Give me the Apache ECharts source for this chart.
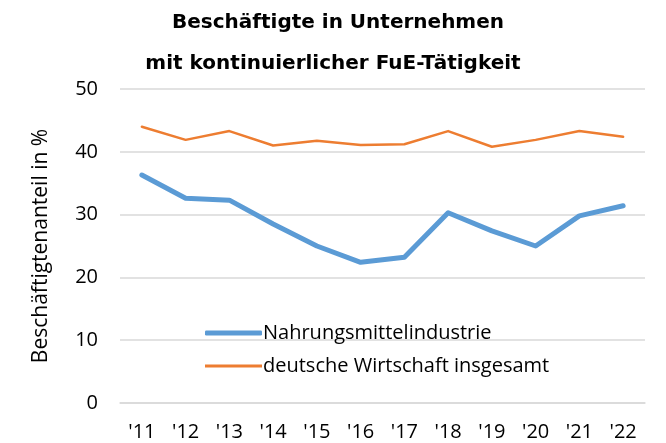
<!DOCTYPE html>
<html><head><meta charset="utf-8">
<script src="https://cdn.jsdelivr.net/npm/echarts@6/dist/echarts.min.js"></script>
<style>html,body{margin:0;padding:0;background:#fff}#c{width:666px;height:443px}</style>
</head><body><div id="c"></div>
<script>
const categories = ["'11","'12","'13","'14","'15","'16","'17","'18","'19","'20","'21","'22"];
const food = [36.3, 32.6, 32.3, 28.5, 25.0, 22.4, 23.2, 30.3, 27.4, 25.0, 29.8, 31.4];
const total = [44.0, 41.9, 43.3, 41.0, 41.75, 41.1, 41.2, 43.3, 40.8, 41.9, 43.3, 42.4];
const yTicks = [0, 10, 20, 30, 40, 50];
const chart = echarts.init(document.getElementById('c'));
const labelFont = "Open Sans, Liberation Sans, sans-serif";
const legendText = {fontFamily: labelFont, fontSize: 20, color: '#000', padding: [0,0,0,-4]};
chart.setOption({
  animation: false,
  title: [
    {text: 'Beschäftigte in Unternehmen', left: 333, textAlign: 'center', top: 8,
     textStyle: {fontFamily: 'DejaVu Sans', fontWeight: 'bold', fontSize: 20, color: '#000'}},
    {text: 'mit kontinuierlicher FuE-Tätigkeit', left: 328, textAlign: 'center', top: 49,
     textStyle: {fontFamily: 'DejaVu Sans', fontWeight: 'bold', fontSize: 20, color: '#000'}}
  ],
  grid: {left: 120, right: 21, top: 89, bottom: 40, containLabel: false},
  legend: [
    {left: 200, top: 318, itemWidth: 57, itemHeight: 5, icon: 'roundRect',
     textStyle: legendText, data: ['Nahrungsmittelindustrie']},
    {left: 200, top: 351, itemWidth: 57, itemHeight: 3, icon: 'rect',
     textStyle: legendText, data: ['deutsche Wirtschaft insgesamt']}
  ],
  xAxis: {
    type: 'category', data: categories, boundaryGap: true,
    axisLine: {lineStyle: {color: '#d9d9d9', width: 1.5}},
    axisTick: {show: false},
    axisLabel: {fontFamily: labelFont, fontSize: 20, color: '#000', margin: 19}
  },
  yAxis: {
    type: 'value', min: 0, max: 50, interval: 10,
    name: 'Beschäftigtenanteil in %', nameLocation: 'middle', nameGap: 68, nameRotate: 90,
    nameTextStyle: {fontFamily: labelFont, fontSize: 21, color: '#000'},
    axisLine: {show: false}, axisTick: {show: false},
    axisLabel: {fontFamily: labelFont, fontSize: 20, color: '#000', margin: 22,
      formatter: v => yTicks.includes(v) ? String(v) : ''},
    splitLine: {lineStyle: {color: '#d9d9d9', width: 1.5}}
  },
  series: [
    {name: 'Nahrungsmittelindustrie', type: 'line', data: food, symbol: 'none',
     lineStyle: {color: '#5b9bd5', width: 5, cap: 'round', join: 'round'}, itemStyle: {color: '#5b9bd5'}},
    {name: 'deutsche Wirtschaft insgesamt', type: 'line', data: total, symbol: 'none',
     lineStyle: {color: '#ed7d31', width: 2.5, cap: 'round', join: 'round'}, itemStyle: {color: '#ed7d31'}}
  ]
});
</script></body></html>
